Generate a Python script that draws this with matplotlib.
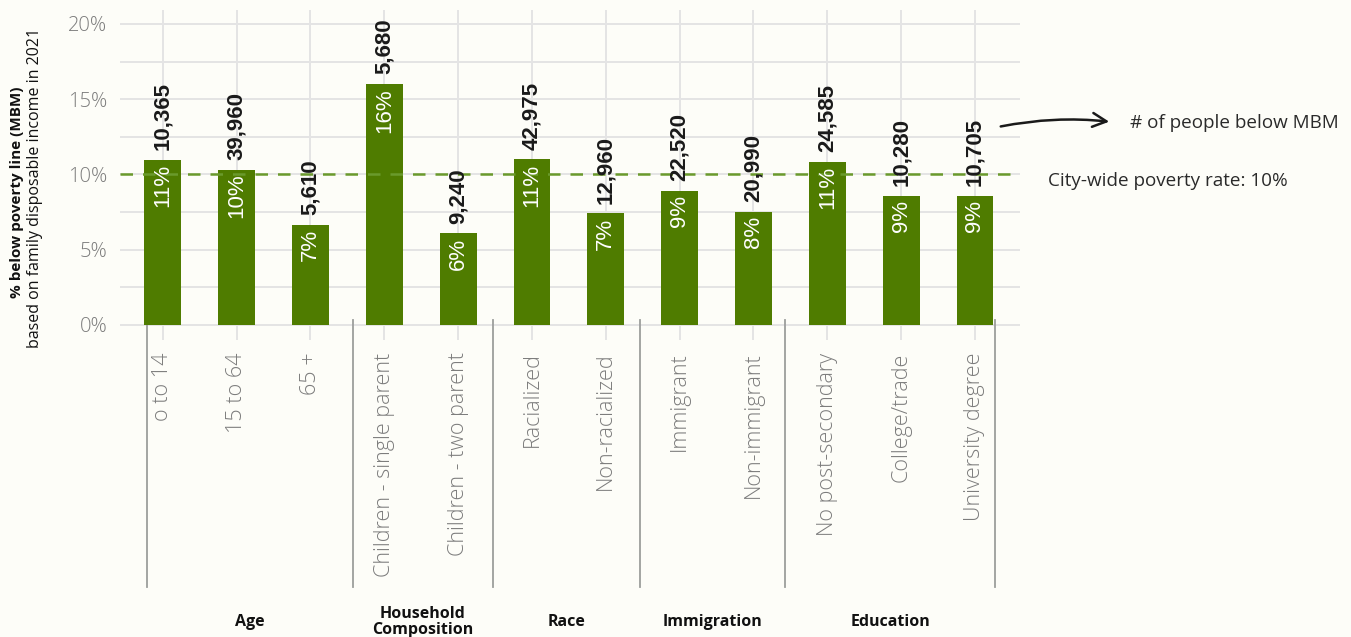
import matplotlib
matplotlib.use("Agg")
import matplotlib.pyplot as plt
from matplotlib.patches import FancyArrowPatch
from matplotlib.transforms import blended_transform_factory

# ---- data -------------------------------------------------------------
categories = ["o to 14", "15 to 64", "65 +",
              "Children - single parent", "Children - two parent",
              "Racialized", "Non-racialized",
              "Immigrant", "Non-immigrant",
              "No post-secondary", "College/trade", "University degree"]
poverty_rate = [10.96, 10.32, 6.64, 16.0, 6.09, 11.0, 7.42, 8.93, 7.53, 10.85, 8.6, 8.57]
people_count = [10365, 39960, 5610, 5680, 9240, 42975, 12960, 22520, 20990, 24585, 10280, 10705]
group_names = ["Age", "Household\nComposition", "Race", "Immigration", "Education"]
group_sizes = [3, 2, 2, 2, 3]
city_rate = 10
y_ticks = [0, 5, 10, 15, 20]

# ---- style ------------------------------------------------------------
BG = "#fdfdf8"
BAR = "#4f7c00"
DASH = "#6a9a2c"
GRID = "#e4e4e4"
TICK = "#7c7c7c"
SEP = "#9c9e9c"

fig = plt.figure(figsize=(13.51, 6.37), dpi=100, facecolor=BG)
W, H = 1351, 637
ax = fig.add_axes([120 / W, 1 - 340 / H, 900 / W, 330 / H])
ax.set_facecolor(BG)

x = list(range(len(categories)))
ax.bar(x, poverty_rate, width=0.5, color=BAR, zorder=3)
ax.set_xlim(-0.58, 11.61)
ax.set_ylim(-1.0, 20.93)

ax.set_yticks(y_ticks)
ax.set_yticks([t + 2.5 for t in y_ticks[:-1]], minor=True)
ax.set_yticklabels([f"{t}%" for t in y_ticks], fontfamily="Open Sans",
                   fontweight="light", fontsize=14.5, color=TICK)
ax.set_xticks(x)
ax.set_xticklabels(categories, rotation=90, va="top", ha="center",
                   fontfamily="Open Sans", fontweight="light", fontsize=15.5,
                   color=TICK)
ax.tick_params(axis="both", which="both", length=0)
ax.tick_params(axis="x", pad=9)
ax.tick_params(axis="y", pad=9)
ax.grid(True, which="both", axis="y", color=GRID, lw=1.4, zorder=0)
ax.grid(True, which="major", axis="x", color=GRID, lw=1.4, zorder=0)
for s in ax.spines.values():
    s.set_visible(False)

ax.axhline(city_rate, color=DASH, lw=1.8, ls=(0, (5, 4)), zorder=4)

for xi, v, n in zip(x, poverty_rate, people_count):
    ax.annotate(f"{n:,}", (xi, v), xytext=(0, 7), textcoords="offset points",
                rotation=90, ha="center", va="bottom", fontfamily="Liberation Sans",
                fontweight="bold", fontsize=16, color="#1a1a1a", zorder=5)
    ax.annotate(f"{v:.0f}%", (xi, v), xytext=(0, -3), textcoords="offset points",
                rotation=90, ha="center", va="top", fontfamily="Liberation Sans",
                fontsize=16, color="white", zorder=5)

# group separators and group names below the category labels
bounds = [-0.22, 2.57, 4.47, 6.46, 8.43, 11.27]
tr = blended_transform_factory(ax.transData, fig.transFigure)
for b in bounds:
    ax.plot([b, b], [1 - 320 / H, 1 - 587 / H], color=SEP, lw=1.3,
            transform=tr, clip_on=False)
for i, name in enumerate(group_names):
    cx = (bounds[i] + bounds[i + 1]) / 2
    ax.text(cx, 1 - 622 / H, name, transform=tr, ha="center", va="center",
            fontfamily="Open Sans", fontweight="bold", fontsize=11.5,
            color="#111111", linespacing=1.0)

# y-axis title (two lines)
fig.text(17 / W, 1 - 192 / H, "% below poverty line (MBM)", rotation=90,
         ha="center", va="center", fontfamily="Open Sans", fontweight="bold",
         fontsize=11, color="#111111")
fig.text(35 / W, 1 - 188 / H, "based on family disposable income in 2021",
         rotation=90, ha="center", va="center", fontfamily="Open Sans",
         fontsize=11.5, color="#111111")

# right-hand notes
fig.text(1130 / W, 1 - 123 / H, "# of people below MBM", ha="left",
         va="center", fontfamily="Open Sans", fontsize=13.6, color="#2a2a2a")
fig.text(1048 / W, 1 - 181 / H, "City-wide poverty rate: 10%", ha="left",
         va="center", fontfamily="Open Sans", fontsize=13.6, color="#2a2a2a")
arrow = FancyArrowPatch((998 / W, 1 - 127 / H), (1112 / W, 1 - 122 / H),
                        transform=fig.transFigure,
                        connectionstyle="arc3,rad=-0.08",
                        arrowstyle="->,head_length=10,head_width=5",
                        color="#1a1a1a", lw=1.8, mutation_scale=1)
fig.patches.append(arrow)

fig.savefig("out.png", dpi=100, facecolor=BG)
